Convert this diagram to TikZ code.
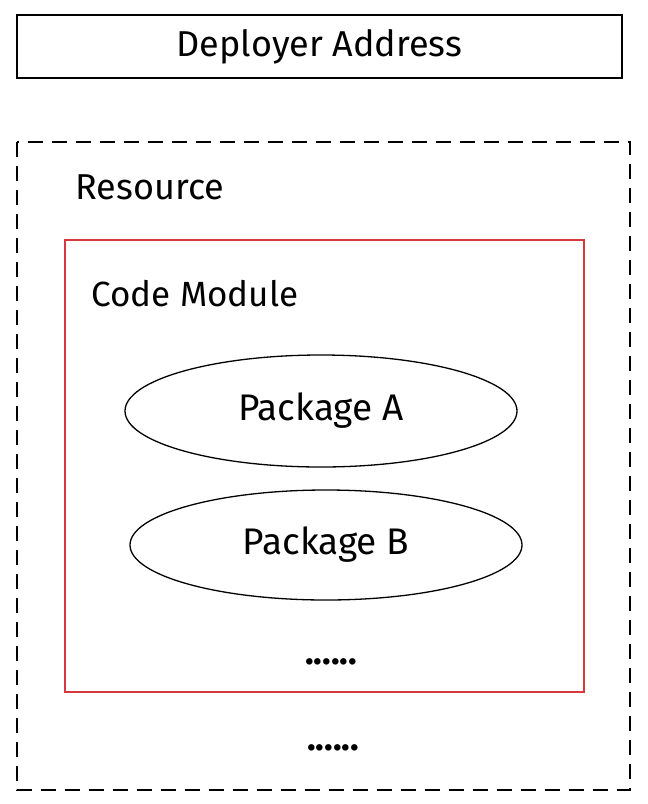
\documentclass[tikz,border=0pt]{standalone}
\usepackage{fontspec}
\setmainfont{Fira Sans}
\usepackage{tikz}
\usetikzlibrary{calc,shapes.geometric}

\definecolor{modred}{RGB}{214,56,62}

\begin{document}
\begin{tikzpicture}[x=1pt,y=-1pt]
            \useasboundingbox (0,0) rectangle (648,804);
            \coordinate (D1) at (17,15);
            \coordinate (D2) at (622,78);
            \coordinate (R1) at (17,142);
            \coordinate (R2) at (630,790);
            \coordinate (M1) at (65,240);
            \coordinate (M2) at (584,692);
            % deployer
            \draw[line width=1.6pt] (D1) rectangle (D2);
            \node[font=\fontsize{36}{40}\selectfont] (deployer) at ($(D1)!0.5!(D2)$) {Deployer Address};
            % resource
            \draw[line width=1.6pt, dash pattern=on 15pt off 9pt] (R1) rectangle (R2);
            \node[font=\fontsize{36}{40}\selectfont, anchor=west] (resource) at (72,187) {Resource};
            % code module
            \draw[modred, line width=1.6pt] (M1) rectangle (M2);
            \node[font=\fontsize{35}{40}\selectfont, anchor=west] (module) at (88,294) {Code Module};
            \node[ellipse, draw, line width=1.3pt, minimum width=392pt, minimum height=112pt, font=\fontsize{37}{42}\selectfont] (pkgA) at (321,411) {Package A};
            \node[ellipse, draw, line width=1.3pt, minimum width=392pt, minimum height=110pt, font=\fontsize{37}{42}\selectfont] (pkgB) at (326,545) {Package B};
            \node[font=\fontsize{36}{40}\selectfont\bfseries] (moreA) at (331,662) {......};
            \node[font=\fontsize{36}{40}\selectfont\bfseries] (moreB) at (333,748) {......};
        \end{tikzpicture}
\end{document}
